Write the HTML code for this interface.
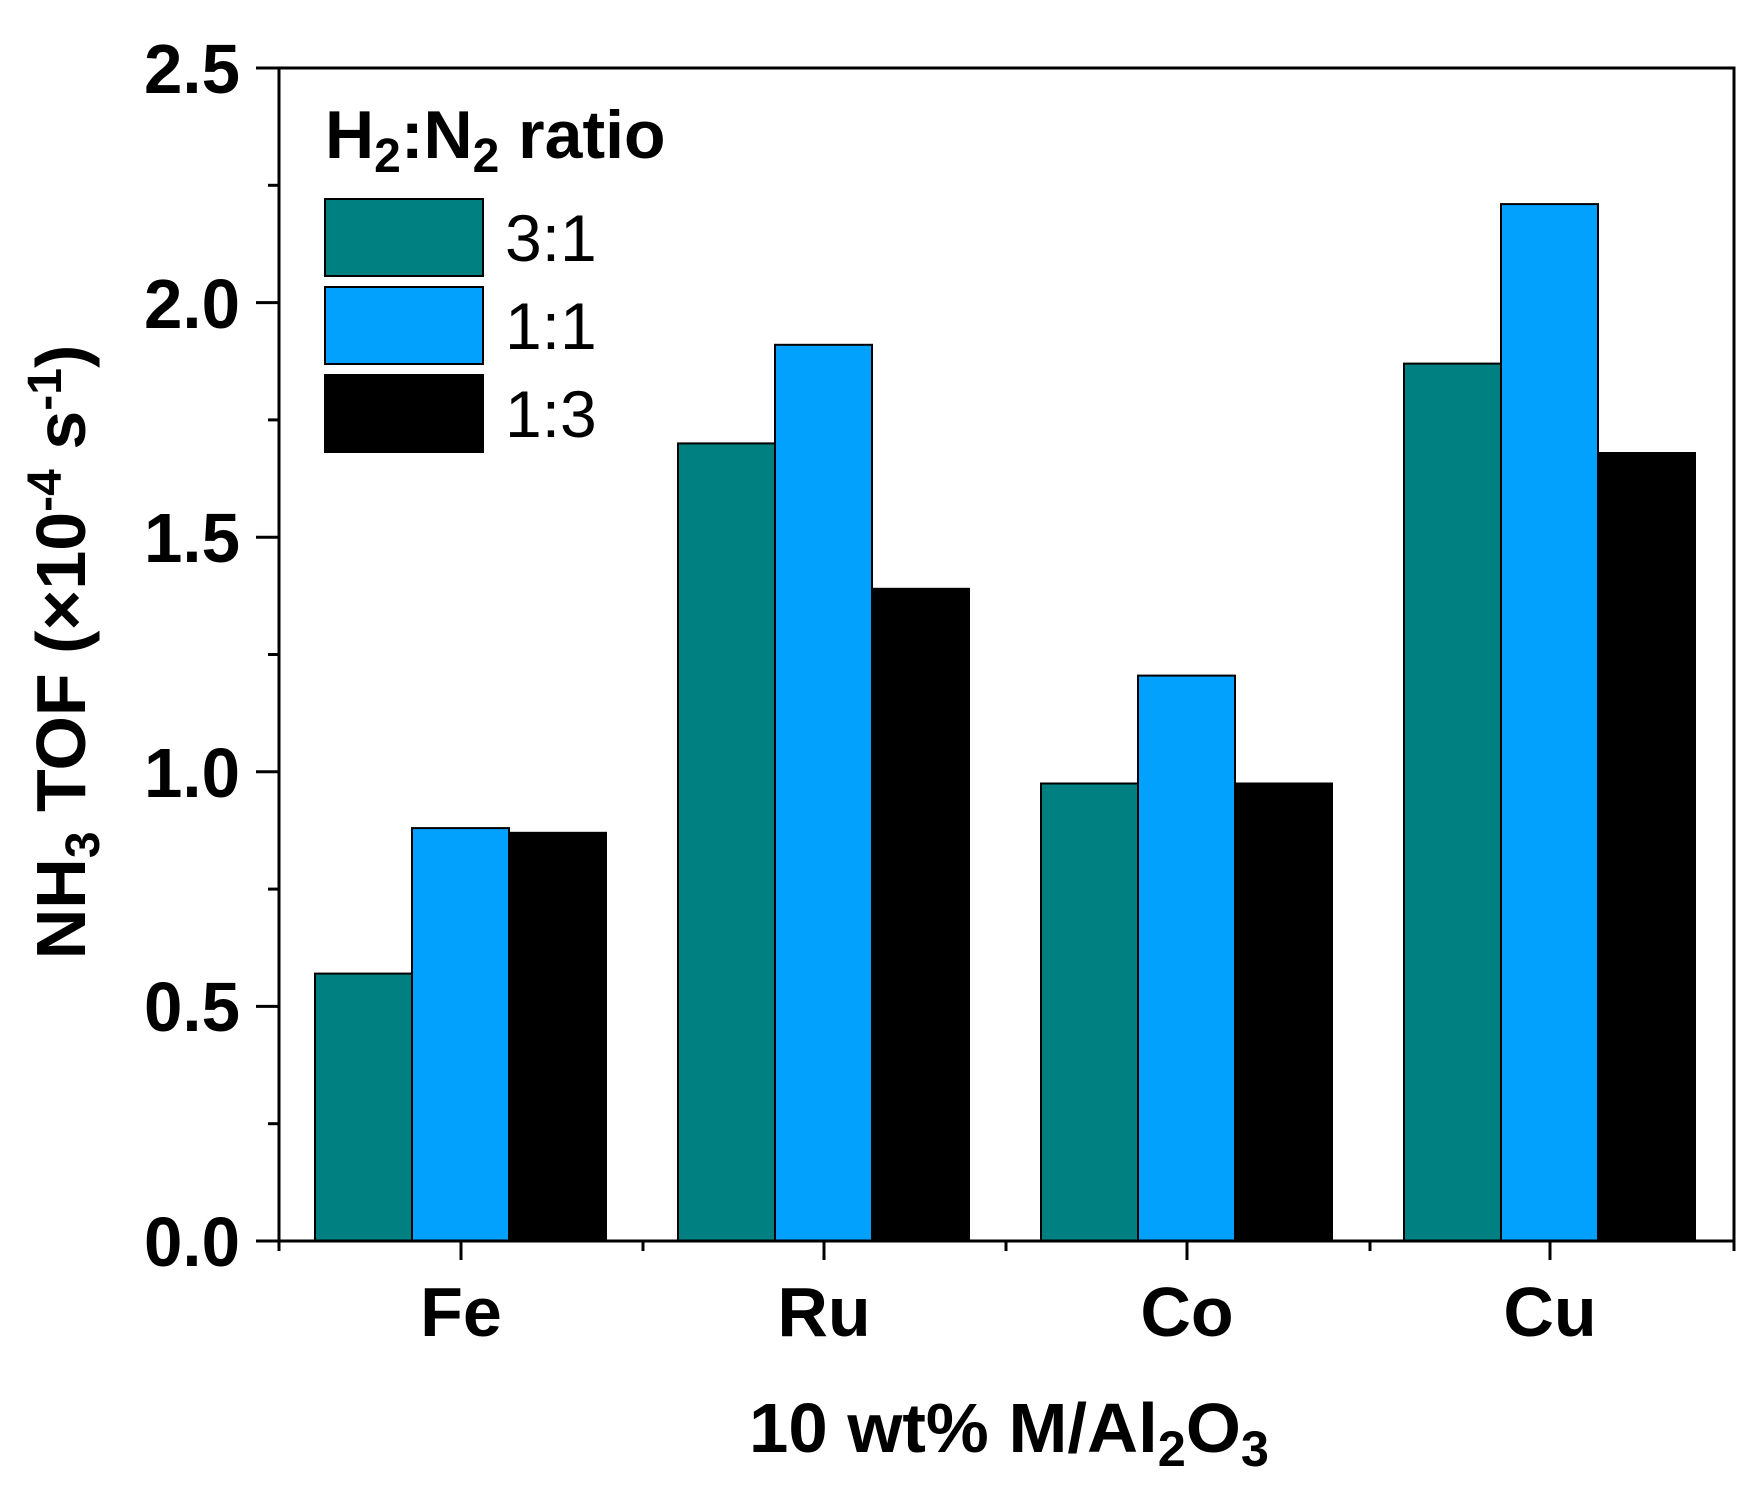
<!DOCTYPE html>
<html><head><meta charset="utf-8"><style>
html,body{margin:0;padding:0;background:#fff;}
svg{display:block;font-family:"Liberation Sans",Arial,sans-serif;}
</style></head><body>
<svg width="1764" height="1508" viewBox="0 0 1764 1508" xmlns="http://www.w3.org/2000/svg">
<g stroke="#000" stroke-width="2">
<rect x="315" y="973.6" width="97" height="267.4" fill="#008080"/>
<rect x="412" y="828.1" width="97" height="412.9" fill="#03A1FE"/>
<rect x="509" y="832.8" width="97" height="408.2" fill="#000"/>

<rect x="678" y="443.4" width="97" height="797.6" fill="#008080"/>
<rect x="775" y="344.8" width="97" height="896.2" fill="#03A1FE"/>
<rect x="872" y="588.8" width="97" height="652.2" fill="#000"/>

<rect x="1041" y="783.5" width="97" height="457.5" fill="#008080"/>
<rect x="1138" y="675.6" width="97" height="565.4" fill="#03A1FE"/>
<rect x="1235" y="783.5" width="97" height="457.5" fill="#000"/>

<rect x="1404" y="363.6" width="97" height="877.4" fill="#008080"/>
<rect x="1501" y="204.1" width="97" height="1036.9" fill="#03A1FE"/>
<rect x="1598" y="453.0" width="97" height="788.0" fill="#000"/>
</g>
<rect x="279" y="68" width="1455" height="1173" fill="none" stroke="#000" stroke-width="3"/>
<g stroke="#000" stroke-width="3">
<line x1="256" y1="1241" x2="279" y2="1241"/>
<line x1="256" y1="1006.4" x2="279" y2="1006.4"/>
<line x1="256" y1="771.8" x2="279" y2="771.8"/>
<line x1="256" y1="537.2" x2="279" y2="537.2"/>
<line x1="256" y1="302.6" x2="279" y2="302.6"/>
<line x1="256" y1="68" x2="279" y2="68"/>
<line x1="268" y1="1123.7" x2="279" y2="1123.7"/>
<line x1="268" y1="889.1" x2="279" y2="889.1"/>
<line x1="268" y1="654.5" x2="279" y2="654.5"/>
<line x1="268" y1="419.9" x2="279" y2="419.9"/>
<line x1="268" y1="185.3" x2="279" y2="185.3"/>
<line x1="461" y1="1241" x2="461" y2="1260"/>
<line x1="824" y1="1241" x2="824" y2="1260"/>
<line x1="1187" y1="1241" x2="1187" y2="1260"/>
<line x1="1550" y1="1241" x2="1550" y2="1260"/>
<line x1="279" y1="1241" x2="279" y2="1251"/>
<line x1="643" y1="1241" x2="643" y2="1251"/>
<line x1="1006" y1="1241" x2="1006" y2="1251"/>
<line x1="1370" y1="1241" x2="1370" y2="1251"/>
<line x1="1734" y1="1241" x2="1734" y2="1251"/>
</g>
<g font-size="70" font-weight="bold" text-anchor="end">
<text x="240" y="1266" textLength="96" lengthAdjust="spacingAndGlyphs">0.0</text>
<text x="240" y="1031" textLength="96" lengthAdjust="spacingAndGlyphs">0.5</text>
<text x="240" y="797" textLength="96" lengthAdjust="spacingAndGlyphs">1.0</text>
<text x="240" y="562" textLength="96" lengthAdjust="spacingAndGlyphs">1.5</text>
<text x="240" y="328" textLength="96" lengthAdjust="spacingAndGlyphs">2.0</text>
<text x="240" y="93" textLength="96" lengthAdjust="spacingAndGlyphs">2.5</text>
</g>
<g font-size="70" font-weight="bold" text-anchor="middle">
<text x="461" y="1336">Fe</text>
<text x="824" y="1336">Ru</text>
<text x="1187" y="1336">Co</text>
<text x="1550" y="1336">Cu</text>
</g>
<text x="749" y="1452" font-size="70" font-weight="bold" textLength="520" lengthAdjust="spacingAndGlyphs">10 wt% M/Al<tspan font-size="50" dy="14">2</tspan><tspan dy="-14">O</tspan><tspan font-size="50" dy="14">3</tspan></text>
<text transform="translate(85,652) rotate(-90)" font-size="70" font-weight="bold" text-anchor="middle">NH<tspan font-size="48" dy="14">3</tspan><tspan dy="-14"> TOF (×10</tspan><tspan font-size="48" dy="-24">-4</tspan><tspan dy="24"> s</tspan><tspan font-size="48" dy="-24">-1</tspan><tspan dy="24">)</tspan></text>
<text x="325" y="158" font-size="68" font-weight="bold">H<tspan font-size="48" dy="14">2</tspan><tspan dy="-14">:N</tspan><tspan font-size="48" dy="14">2</tspan><tspan dy="-14"> ratio</tspan></text>
<rect x="325" y="199" width="158" height="77" fill="#008080" stroke="#000" stroke-width="2"/>
<rect x="325" y="287" width="158" height="77" fill="#03A1FE" stroke="#000" stroke-width="2"/>
<rect x="325" y="375" width="158" height="77" fill="#000" stroke="#000" stroke-width="2"/>
<g font-size="66">
<text x="505" y="261">3:1</text>
<text x="505" y="349">1:1</text>
<text x="505" y="437">1:3</text>
</g>
</svg>
</body></html>
